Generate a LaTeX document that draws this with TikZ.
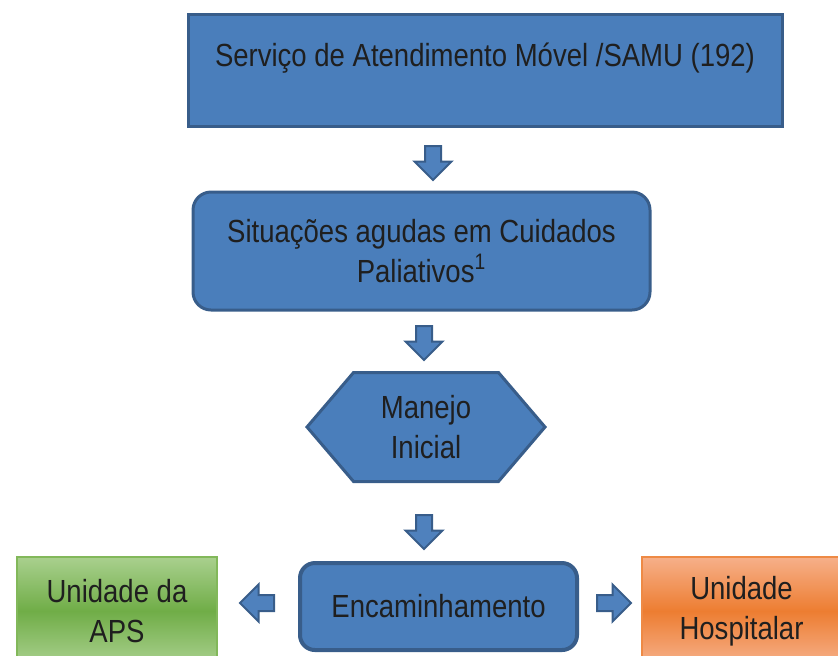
\documentclass[tikz,border=0pt]{standalone}
\usepackage{fontspec}
\setmainfont{Liberation Sans}[FakeStretch=0.86]
\usetikzlibrary{positioning,shapes.arrows,shapes.symbols}
\definecolor{boxblue}{HTML}{4A7EBB}
\definecolor{edgeblue}{HTML}{385D8A}
\definecolor{arrowblue}{HTML}{4F81BD}
\definecolor{inkgray}{HTML}{1F1F1F}
\definecolor{greenlight}{HTML}{A9D08E}
\definecolor{greendark}{HTML}{70AD47}
\definecolor{greenedge}{HTML}{82B85A}
\definecolor{orangelight}{HTML}{F6B08A}
\definecolor{orangedark}{HTML}{ED7D31}
\definecolor{orangeedge}{HTML}{EE8A45}

\begin{document}
\begin{tikzpicture}
		[x=0.5pt,y=-0.5pt,
		font=\fontsize{16}{20}\selectfont,
		squarebox/.style={rectangle, draw=edgeblue, fill=boxblue, line width=1.5pt, text=inkgray, align=center},
		roundbox/.style={squarebox, rounded corners=9pt},
		hexbox/.style={signal, signal to=west and east, signal pointer angle=99, draw=edgeblue, fill=boxblue, line width=1.5pt, text=inkgray, align=center, inner sep=0pt},
		downarrow/.style={single arrow, shape border rotate=270, draw=edgeblue, fill=arrowblue, line width=1pt, minimum height=17pt, minimum width=17.5pt, single arrow head extend=5.25pt, inner sep=3.5pt},
		sidearrow/.style={downarrow, shape border rotate=0},
		unitbox/.style={rectangle, line width=1pt, text=inkgray, align=center, minimum width=100pt, minimum height=54pt},
		]
		\useasboundingbox (0,0) rectangle (838,655);
		\clip (0,0) rectangle (838,655);
		
		%Nodes
		\node[squarebox, minimum width=297pt, minimum height=56pt, text depth=15pt](samu) at (485,70) {Serviço de Atendimento Móvel /SAMU (192)};
		\node[roundbox, minimum width=228.5pt, minimum height=59pt](agudas) at (421.5,251) {Situações agudas em Cuidados\\Paliativos\textsuperscript{1}};
		\node[hexbox, minimum width=119pt, minimum height=54.5pt](manejo) at (426,427) {Manejo\\Inicial};
		\node[roundbox, rounded corners=7.5pt, line width=2pt, minimum width=138.5pt, minimum height=43.5pt](encaminha) at (438.5,606.5) {Encaminhamento};
		\node[unitbox, draw=greenedge, top color=greenlight, bottom color=greenlight, middle color=greendark](aps) at (117,611) {Unidade da\\APS};
		\node[unitbox, draw=orangeedge, top color=orangelight, bottom color=orangelight, middle color=orangedark](hospital) at (741.5,611) {Unidade\\Hospitalar};
		%Lines
		\node[downarrow](arrowa) at (433,159) {};
		\node[downarrow](arrowb) at (424,339) {};
		\node[downarrow](arrowc) at (424,528) {};
		\node[sidearrow, shape border rotate=180](arrowaps) at (261,603) {};
		\node[sidearrow](arrowhosp) at (610,603) {};
	\end{tikzpicture}
\end{document}
